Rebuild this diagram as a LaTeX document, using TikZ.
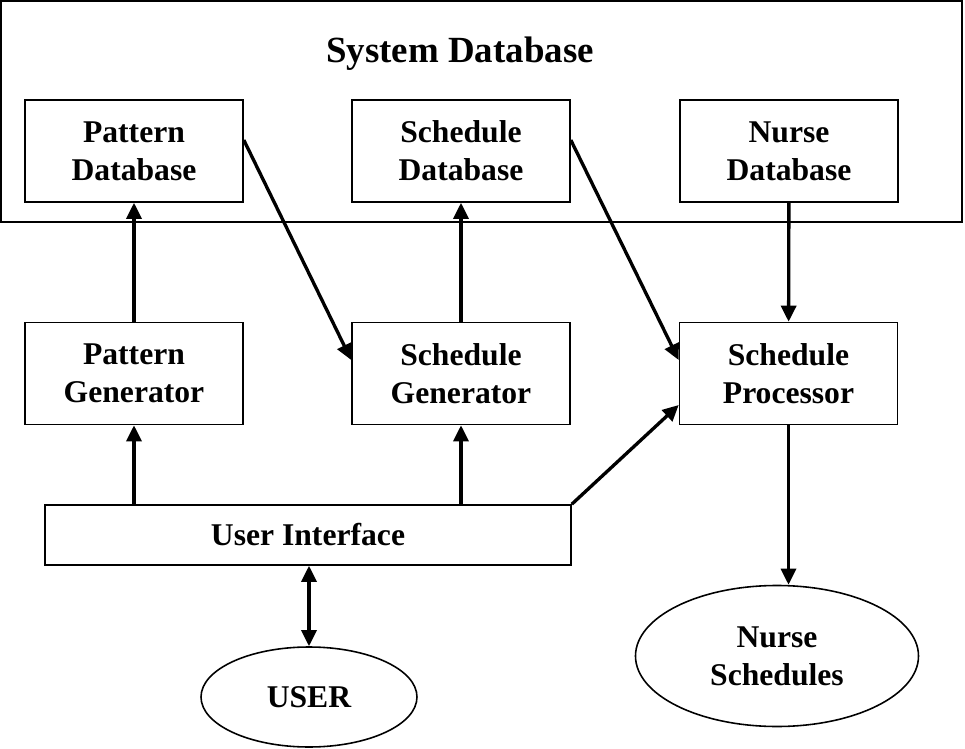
\documentclass[tikz,border=0pt]{standalone}
\usepackage{fontspec}
\setmainfont{Liberation Serif}
\usepackage{tikz}
\usetikzlibrary{shapes.geometric, arrows.meta, positioning}

\begin{document}
\begin{tikzpicture}[
    block/.style={draw, line width=0.9pt, minimum width=4.36cm, minimum height=2.04cm,
                  align=center, font=\fontsize{18}{21.6}\selectfont\bfseries},
    oval/.style={draw, ellipse, line width=0.9pt, inner sep=0pt, align=center,
                 font=\fontsize{18}{21.6}\selectfont\bfseries},
    link/.style={line width=1.9pt, -{Triangle[length=0.32cm, width=0.3cm]}}
]
    \useasboundingbox (0,0) rectangle (19.3,-14.98);

    % system database
    \node[draw, line width=1.1pt, minimum width=19.22cm, minimum height=4.42cm] (sysdb) at (9.63,-2.23) {};
    \node[font=\fontsize{21}{25}\selectfont\bfseries] (systitle) at (9.2,-1.08) {System Database};
    \node[block] (patdb) at (2.68,-3.02) {Pattern\\Database};
    \node[block] (scheddb) at (9.22,-3.02) {Schedule\\Database};
    \node[block] (nursedb) at (15.78,-3.02) {Nurse\\Database};

    % processing
    \node[block] (patgen) at (2.68,-7.47) {Pattern\\Generator};
    \node[block] (schedgen) at (9.22,-7.47) {Schedule\\Generator};
    \node[block] (schedproc) at (15.77,-7.47) {Schedule\\Processor};
    \node[block, minimum width=10.52cm, minimum height=1.2cm] (ui) at (6.16,-10.7) {User Interface};

    \node[oval, minimum width=4.32cm, minimum height=2.0cm] (user) at (6.18,-13.94) {USER};
    \node[oval, minimum width=5.66cm, minimum height=2.82cm] (nsched) at (15.54,-13.12) {Nurse\\Schedules};

    % connectors
    \draw[link] (patgen) -- (patdb);
    \draw[link] (schedgen) -- (scheddb);
    \draw[link] (ui.north -| patgen) -- (patgen);
    \draw[link] (ui.north -| schedgen) -- (schedgen);
    \draw[link] ([yshift=0.22cm]patdb.east) -- ([yshift=0.27cm]schedgen.west);
    \draw[link] ([yshift=0.22cm]scheddb.east) -- ([yshift=0.27cm]schedproc.west);
    \draw[link] (ui.north east) -- ([yshift=-0.63cm]schedproc.west);
    \draw[link] (nursedb) -- (schedproc);
    \draw[link] (schedproc.south) -- (schedproc.south |- nsched.north);
    \draw[link, {Triangle[length=0.32cm, width=0.3cm]}-{Triangle[length=0.32cm, width=0.3cm]}] (ui.south -| user) -- (user.north);
\end{tikzpicture}
\end{document}
